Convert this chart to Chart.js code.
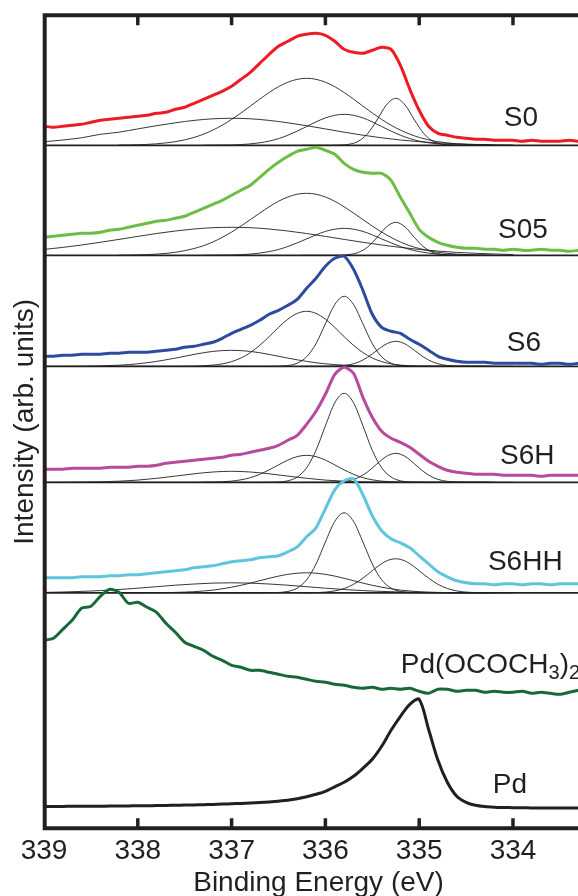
<!DOCTYPE html>
<html>
<head>
<meta charset="utf-8">
<script src="https://cdn.jsdelivr.net/npm/chart.js@4.4.1/dist/chart.umd.min.js"></script>
<style>
  html, body { margin: 0; padding: 0; overflow: hidden; background: #fff; }
  #wrap { width: 593px; height: 896px; }
</style>
</head>
<body>
<div id="wrap"><canvas id="xps" width="593" height="896"></canvas></div>
<script>
// binding energy grid of the measured spectra (eV)
const energy = [339.0, 338.9, 338.8, 338.7, 338.6, 338.5, 338.4, 338.3, 338.2, 338.1,
  338.0, 337.9, 337.8, 337.7, 337.6, 337.5, 337.4, 337.3, 337.2, 337.1,
  337.0, 336.9, 336.8, 336.7, 336.6, 336.5, 336.4, 336.3, 336.2, 336.1,
  336.0, 335.9, 335.8, 335.7, 335.6, 335.5, 335.4, 335.3, 335.2, 335.1,
  335.0, 334.9, 334.8, 334.7, 334.6, 334.5, 334.4, 334.3, 334.2, 334.1,
  334.0, 333.9, 333.8, 333.7, 333.6, 333.5, 333.4, 333.3];

const tickValues = [339, 338, 337, 336, 335, 334];

// spectra, intensity above each sample's own baseline (arb. units)
const s0 = [19, 18, 19, 20, 21, 23, 25, 26, 27, 28,
  29, 30, 32, 33, 36, 38, 42, 46, 50, 54,
  59, 66, 73, 82, 91, 99, 104, 109, 111, 112,
  110, 104, 96, 93, 92, 95, 98, 96, 80, 56,
  35, 19, 12, 10, 8, 7, 6, 6, 5, 5,
  5, 4, 5, 4, 4, 4, 5, 4];
const s05 = [18, 19, 20, 21, 22, 22, 23, 25, 26, 28,
  30, 32, 34, 35, 37, 39, 43, 47, 51, 55,
  60, 65, 70, 78, 86, 93, 99, 104, 106, 108,
  105, 101, 92, 86, 83, 82, 82, 75, 58, 42,
  26, 18, 13, 10, 8, 7, 7, 6, 6, 5,
  6, 5, 5, 6, 5, 5, 4, 5];
const s6 = [10, 10, 11, 11, 12, 12, 12, 13, 13, 14,
  14, 14, 15, 16, 17, 19, 20, 22, 24, 28,
  33, 37, 41, 46, 52, 56, 61, 67, 78, 88,
  100, 108, 110, 97, 76, 52, 39, 35, 33, 27,
  22, 16, 10, 7, 5, 4, 4, 4, 3, 3,
  3, 3, 3, 2, 3, 3, 2, 3];
const s6h = [13, 13, 13, 14, 14, 14, 14, 15, 15, 15,
  16, 16, 17, 19, 20, 21, 22, 23, 24, 25,
  27, 28, 30, 32, 34, 37, 42, 47, 58, 71,
  88, 108, 115, 109, 85, 65, 51, 44, 40, 35,
  28, 21, 16, 12, 10, 9, 8, 8, 8, 7,
  7, 7, 7, 6, 7, 7, 7, 7];
const s6hh = [15, 15, 15, 15, 16, 16, 16, 17, 17, 18,
  18, 19, 20, 21, 22, 23, 25, 26, 27, 29,
  31, 32, 33, 35, 36, 37, 41, 46, 56, 65,
  84, 103, 112, 114, 98, 77, 62, 54, 50, 45,
  37, 29, 21, 16, 12, 10, 9, 9, 8, 9,
  9, 8, 9, 9, 8, 9, 9, 9];
const pdAcetate = [188, 190, 199, 208, 220, 222, 232, 239, 236, 225,
  226, 221, 216, 205, 196, 186, 182, 178, 172, 168,
  163, 161, 158, 158, 156, 154, 152, 151, 149, 147,
  146, 144, 143, 141, 140, 141, 139, 140, 139, 140,
  137, 135, 139, 139, 137, 138, 138, 136, 137, 136,
  136, 137, 135, 136, 135, 134, 136, 138];
const pdMetal = [21.8, 21.9, 21.9, 22.0, 22.0, 22.1, 22.1, 22.2, 22.3, 22.4,
  22.5, 22.6, 22.7, 22.9, 23.0, 23.2, 23.4, 23.6, 23.9, 24.2,
  24.5, 24.9, 25.3, 25.8, 26.4, 27.1, 28.0, 29.5, 31.5, 34,
  37, 41.5, 46, 52, 60, 69, 82, 98, 112, 124,
  129, 99, 68, 46, 32, 26, 23, 21.7, 21.1, 20.8,
  20.6, 20.5, 20.4, 20.4, 20.3, 20.3, 20.3, 20.3];

// fitted components, rows in sample order S0, S05, S6, S6H, S6HH
const fitBroadE = [339.0, 338.8, 338.6, 338.4, 338.2, 338.0, 337.8, 337.6, 337.4, 337.2,
  337.0, 336.8, 336.6, 336.4, 336.2, 336.0, 335.8, 335.6, 335.4, 335.2,
  335.0, 334.8, 334.6, 334.4, 334.2, 334.0];
const fitBroad = [
  [3.6, 5.3, 7.5, 11.0, 13.1, 16.4, 19.6, 22.5, 24.9, 26.5, 27, 26.5, 24.9, 22.5, 19.6, 16.4, 13.1, 10.1, 7.5, 5.3, 3.6, 2.4, 1.5, 0.9, 0.5, 0.3],
  [5.9, 7.9, 10.3, 13.0, 15.9, 18.9, 21.8, 24.3, 26.3, 27.6, 28, 27.6, 26.3, 24.3, 21.8, 18.9, 15.9, 13.0, 10.3, 7.9, 5.9, 4.2, 2.9, 2.0, 1.3, 0.8],
  [0, 0, 0.1, 0.4, 1.1, 2.5, 4.9, 8.2, 11.9, 14.9, 16, 14.9, 11.9, 8.2, 4.9, 2.5, 1.1, 0.4, 0.1, 0, 0, 0, 0, 0, 0, 0],
  [0, 0.1, 0.2, 0.5, 1.1, 2.2, 4.0, 6.2, 8.5, 10.3, 11, 10.3, 8.5, 6.2, 4.0, 2.2, 1.1, 0.5, 0.2, 0.1, 0, 0, 0, 0, 0, 0],
  [0.4, 0.8, 1.4, 2.2, 3.3, 4.6, 6.1, 7.6, 8.8, 9.7, 10, 9.7, 8.8, 7.6, 6.1, 4.6, 3.3, 2.2, 1.4, 0.8, 0.4, 0.2, 0.1, 0.1, 0, 0]
];

const fitMidE = [338.2, 338.1, 338.0, 337.9, 337.8, 337.7, 337.6, 337.5, 337.4, 337.3,
  337.2, 337.1, 337.0, 336.9, 336.8, 336.7, 336.6, 336.5, 336.4, 336.3,
  336.2, 336.1, 336.0, 335.9, 335.8, 335.7, 335.6, 335.5, 335.4, 335.3,
  335.2, 335.1, 335.0, 334.9, 334.8, 334.7, 334.6, 334.5, 334.4, 334.3, 334.2];
const fitMid = [
  [0.2, 0.3, 0.5, 0.9, 1.5, 2.4, 3.6, 5.4, 7.9, 11.1, 15.2, 20.1, 25.9, 32.3, 39.2, 46.2, 52.8, 58.6, 63.1, 66.0, 67, 66.0, 63.1, 58.6, 52.8, 46.2, 39.2, 32.3, 25.9, 20.1, 15.2, 11.1, 7.9, 5.4, 3.6, 2.4, 1.5, 0.9, 0.5, 0.3, 0.2],
  [0.1, 0.2, 0.4, 0.7, 1.2, 1.9, 3.0, 4.6, 6.8, 9.6, 13.3, 17.9, 23.2, 29.2, 35.7, 42.2, 48.5, 54.0, 58.3, 61.1, 62, 61.1, 58.3, 54.0, 48.5, 42.2, 35.7, 29.2, 23.2, 17.9, 13.3, 9.6, 6.8, 4.6, 3.0, 1.9, 1.2, 0.7, 0.4, 0.2, 0.1],
  [0, 0, 0, 0, 0, 0, 0, 0.1, 0.2, 0.5, 1.2, 2.4, 4.7, 8.3, 13.7, 21.0, 29.6, 38.9, 47.1, 52.9, 55, 52.9, 47.1, 38.9, 29.6, 21.0, 13.7, 8.3, 4.7, 2.4, 1.2, 0.5, 0.2, 0.1, 0, 0, 0, 0, 0, 0, 0],
  [0, 0, 0, 0, 0, 0, 0, 0, 0, 0.1, 0.2, 0.5, 1.2, 2.5, 4.6, 8.0, 12.4, 17.4, 22.2, 25.7, 27, 25.7, 22.2, 17.4, 12.4, 8.0, 4.6, 2.5, 1.2, 0.5, 0.2, 0.1, 0, 0, 0, 0, 0, 0, 0, 0, 0],
  [0, 0, 0, 0.1, 0.1, 0.2, 0.4, 0.7, 1.1, 1.8, 2.7, 4.0, 5.6, 7.5, 9.7, 12.1, 14.5, 16.7, 18.5, 19.6, 20, 19.6, 18.5, 16.7, 14.5, 12.1, 9.7, 7.5, 5.6, 4.0, 2.7, 1.8, 1.1, 0.7, 0.4, 0.2, 0.1, 0.1, 0, 0, 0]
];

const fitMainE = [337.3, 337.2, 337.1, 337.0, 336.9, 336.8, 336.7, 336.6, 336.5, 336.4,
  336.3, 336.2, 336.1, 336.0, 335.9, 335.8, 335.7, 335.6, 335.5, 335.4,
  335.3, 335.2, 335.1, 335.0, 334.9, 334.8, 334.7, 334.6, 334.5, 334.4, 334.3];
const fitMain = [
  [0, 0.1, 0.2, 0.3, 0.7, 1.4, 2.5, 4.2, 6.7, 10.1, 14.2, 18.8, 23.4, 27.4, 30.0, 31, 30.0, 27.4, 23.4, 18.8, 14.2, 10.1, 6.7, 4.2, 2.5, 1.4, 0.7, 0.3, 0.2, 0.1, 0],
  [0, 0.1, 0.2, 0.3, 0.6, 1.2, 2.2, 3.7, 5.8, 8.8, 12.4, 16.4, 20.4, 23.9, 26.1, 27, 26.1, 23.9, 20.4, 16.4, 12.4, 8.8, 5.8, 3.7, 2.2, 1.2, 0.6, 0.3, 0.2, 0.1, 0],
  [0, 0, 0, 0, 0, 0, 0, 0, 0.2, 0.8, 3.1, 9.5, 22.7, 42.5, 61.8, 70, 61.8, 42.5, 22.7, 9.5, 3.1, 0.8, 0.2, 0, 0, 0, 0, 0, 0, 0, 0],
  [0, 0, 0, 0, 0, 0, 0, 0.1, 0.3, 1.5, 5.3, 14.5, 32.0, 56.5, 79.5, 89, 79.5, 56.5, 32.0, 14.5, 5.3, 1.5, 0.3, 0.1, 0, 0, 0, 0, 0, 0, 0],
  [0, 0, 0, 0, 0, 0, 0, 0.1, 0.3, 1.4, 4.7, 13.0, 28.8, 50.8, 71.4, 80, 71.4, 50.8, 28.8, 13.0, 4.7, 1.4, 0.3, 0.1, 0, 0, 0, 0, 0, 0, 0]
];

const fitLowE = [336.25, 336.15, 336.05, 335.95, 335.85, 335.75, 335.65, 335.55, 335.45, 335.35,
  335.25, 335.15, 335.05, 334.95, 334.85, 334.75, 334.65, 334.55, 334.45, 334.35, 334.25];
const fitLow = [
  [0, 0, 0, 0, 0.2, 1.0, 4.0, 11.7, 25.3, 40.3, 47, 40.3, 25.3, 11.7, 4.0, 1.0, 0.2, 0, 0, 0, 0],
  [0, 0, 0, 0, 0.1, 0.7, 2.8, 8.2, 17.8, 28.3, 33, 28.3, 17.8, 8.2, 2.8, 0.7, 0.1, 0, 0, 0, 0],
  [0, 0, 0, 0.1, 0.4, 1.5, 4.1, 9.0, 15.9, 22.3, 25, 22.3, 15.9, 9.0, 4.1, 1.5, 0.4, 0.1, 0, 0, 0],
  [0, 0, 0, 0.1, 0.5, 1.7, 4.7, 10.4, 18.4, 25.9, 29, 25.9, 18.4, 10.4, 4.7, 1.7, 0.5, 0.1, 0, 0, 0],
  [0, 0.1, 0.4, 1.2, 2.9, 6.1, 11.4, 18.3, 25.8, 31.8, 34, 31.8, 25.8, 18.3, 11.4, 6.1, 2.9, 1.2, 0.4, 0.1, 0]
];

const sampleNames = ['S0', 'S05', 'S6', 'S6H', 'S6HH'];

// layout / style (not data)
const offsets = [683, 573, 462, 346, 235.5];
const colors = ['#ed1c24', '#6bbd45', '#2e4c9f', '#b64a9d', '#5ec6dc'];
const pdAcColor = '#17693a';
const ink = '#231f20';
const xMax = 339, xMin = 333.147, yMax = 813;
const labelPos = [[333.915, 702.3], [333.893, 590.3], [333.883, 477.3], [333.847, 364.3], [333.869, 258.3]];

Chart.defaults.font.family = '"Liberation Sans", Arial, Helvetica, sans-serif';
Chart.defaults.color = ink;

function series(xs, ys, off) {
  return xs.map((x, i) => ({ x: x, y: ys[i] + off }));
}

let datasets = [];
let spectra = [s0, s05, s6, s6h, s6hh];
spectra.forEach((ys, k) => {
  datasets.push({ data: series(energy, ys, offsets[k]), borderColor: colors[k], borderWidth: 3, tension: 0.25 });
});
datasets.push({ data: series(energy, pdAcetate, 0), borderColor: pdAcColor, borderWidth: 3, tension: 0.25 });
datasets.push({ data: series(energy, pdMetal, 0), borderColor: ink, borderWidth: 3, tension: 0.3 });

let families = [[fitBroadE, fitBroad], [fitMidE, fitMid], [fitMainE, fitMain], [fitLowE, fitLow]];
sampleNames.forEach((name, k) => {
  families.forEach(([xs, rows]) => {
    datasets.push({ data: series(xs, rows[k], offsets[k]), borderColor: ink, borderWidth: 0.9, cubicInterpolationMode: 'monotone' });
  });
  // zero line of the sample
  datasets.push({ data: [{ x: xMax, y: offsets[k] }, { x: xMin, y: offsets[k] }], borderColor: ink, borderWidth: 1.8 });
});

const framePlugin = {
  id: 'frame',
  afterDatasetsDraw(chart) {
    const { ctx, chartArea: a, scales: { x } } = chart;
    const left = a.left + 0.7;
    ctx.save();
    ctx.strokeStyle = ink;
    ctx.lineWidth = 4;
    ctx.lineJoin = 'miter';
    ctx.beginPath();
    ctx.moveTo(a.right, a.top);
    ctx.lineTo(left, a.top);
    ctx.lineTo(left, a.bottom);
    ctx.lineTo(a.right, a.bottom);
    ctx.stroke();
    ctx.lineWidth = 3.5;
    tickValues.slice(1).forEach(v => {
      const px = x.getPixelForValue(v);
      ctx.beginPath();
      ctx.moveTo(px, a.top);
      ctx.lineTo(px, a.top + 10);
      ctx.moveTo(px, a.bottom);
      ctx.lineTo(px, a.bottom - 10);
      ctx.stroke();
    });
    ctx.restore();
  }
};

const labelPlugin = {
  id: 'labels',
  afterDraw(chart) {
    const { ctx, scales: { x, y } } = chart;
    const fam = Chart.defaults.font.family;
    ctx.save();
    ctx.fillStyle = ink;
    ctx.textBaseline = 'alphabetic';
    ctx.textAlign = 'center';
    ctx.font = '28px ' + fam;
    sampleNames.forEach((name, k) => {
      ctx.fillText(name, x.getPixelForValue(labelPos[k][0]), y.getPixelForValue(labelPos[k][1]));
    });
    ctx.fillText('Pd', x.getPixelForValue(334.032), y.getPixelForValue(35.3));

    // Pd(OCOCH3)2 with subscripts
    let px = x.getPixelForValue(335.197);
    const py = y.getPixelForValue(155.3);
    ctx.textAlign = 'left';
    const parts = [['Pd(OCOCH', 28, 0], ['3', 20, 6], [')', 28, 0], ['2', 20, 6]];
    parts.forEach(([t, size, drop]) => {
      ctx.font = size + 'px ' + fam;
      ctx.fillText(t, px, py + drop);
      px += ctx.measureText(t).width;
    });
    ctx.restore();
  }
};

new Chart(document.getElementById('xps'), {
  type: 'line',
  data: { datasets: datasets },
  options: {
    responsive: false,
    devicePixelRatio: 1,
    animation: false,
    events: [],
    layout: { padding: { top: 15.3, left: 0, right: 0, bottom: 0 } },
    elements: { point: { radius: 0 }, line: { fill: false, borderCapStyle: 'round', borderJoinStyle: 'round' } },
    plugins: { legend: { display: false }, tooltip: { enabled: false } },
    scales: {
      x: {
        type: 'linear',
        reverse: true,
        min: xMin,
        max: xMax,
        afterBuildTicks: (axis) => { axis.ticks = tickValues.map(v => ({ value: v })); },
        afterFit: (axis) => { axis.height = 67.7; },
        grid: { display: false, drawTicks: false },
        border: { display: false },
        ticks: { font: { size: 28 }, padding: 6.6, maxRotation: 0, autoSkip: false, color: ink },
        title: { display: true, text: 'Binding Energy (eV)', font: { size: 28 }, color: ink, padding: { top: 0, bottom: -3.8 } }
      },
      y: {
        type: 'linear',
        min: 0,
        max: yMax,
        afterFit: (axis) => { axis.width = 44; },
        grid: { display: false, drawTicks: false },
        border: { display: false },
        ticks: { display: false },
        title: { display: true, text: 'Intensity (arb. units)', font: { size: 28 }, color: ink, padding: { top: 8.7, bottom: 0 } }
      }
    }
  },
  plugins: [framePlugin, labelPlugin]
});
</script>
</body>
</html>
